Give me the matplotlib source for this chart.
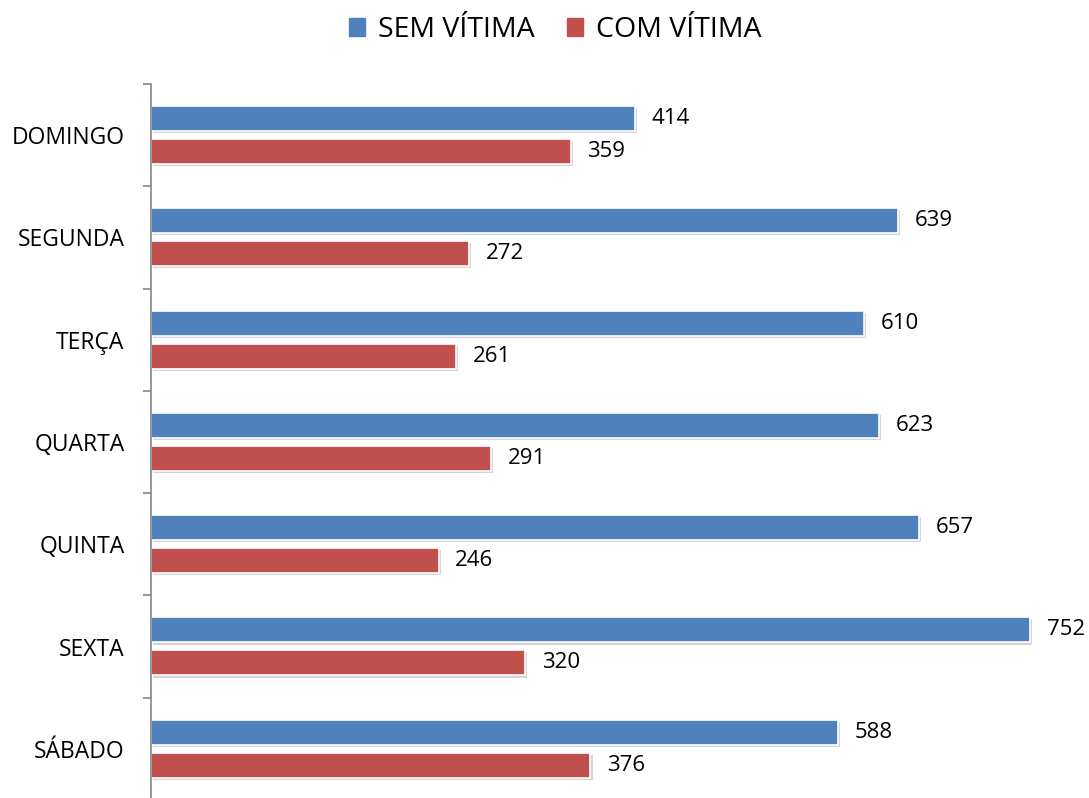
import numpy as np
import matplotlib.pyplot as plt
import matplotlib.patheffects as pe
from matplotlib.patches import Patch

# data
dias = ['DOMINGO', 'SEGUNDA', 'TERÇA', 'QUARTA', 'QUINTA', 'SEXTA', 'SÁBADO']
sem_vitima = [414, 639, 610, 623, 657, 752, 588]
com_vitima = [359, 272, 261, 291, 246, 320, 376]
series_names = ['SEM VÍTIMA', 'COM VÍTIMA']

plt.rcParams['font.family'] = ['Open Sans', 'DejaVu Sans']

fig = plt.figure(figsize=(10.89, 7.98), dpi=100)
ax = fig.add_axes([151 / 1089, -2 / 798, 935 / 1089, 716 / 798])

y = np.arange(len(dias))
h = 0.245
shadow = [pe.SimplePatchShadow(offset=(1.5, -1.5), shadow_rgbFace='#aaaaaa', alpha=0.5), pe.Normal()]

b1 = ax.barh(y - 0.163, sem_vitima, height=h, color='#4F81BD',
             edgecolor='white', linewidth=1.2, path_effects=shadow)
b2 = ax.barh(y + 0.16, com_vitima, height=h, color='#C0504D',
             edgecolor='white', linewidth=1.2, path_effects=shadow)

for bars, vals in [(b1, sem_vitima), (b2, com_vitima)]:
    for bar, v in zip(bars, vals):
        ax.annotate(str(v), (bar.get_width(), bar.get_y() + bar.get_height() / 2),
                    xytext=(12, 0), textcoords='offset points',
                    va='center', ha='left', fontsize=16, color='black')

ax.set_xlim(0, 800)
ax.set_ylim(len(dias) - 0.5, -0.5)
ax.set_yticks(y)
ax.set_yticklabels(dias, fontsize=16.5)
ax.set_yticks(np.arange(-0.5, len(dias) + 0.5, 1), minor=True)
ax.tick_params(axis='y', which='major', length=0, pad=19)
ax.tick_params(axis='y', which='minor', length=6, color='#868686', width=1.2)
ax.set_xticks([])

for s in ['top', 'right', 'bottom']:
    ax.spines[s].set_visible(False)
ax.spines['left'].set_color('#868686')
ax.spines['left'].set_linewidth(1.2)

handles = [Patch(color='#4F81BD'), Patch(color='#C0504D')]
fig.legend(handles, series_names, loc='upper center', bbox_to_anchor=(0.51, 1.012),
           ncol=2, frameon=False, fontsize=20.5, handlelength=0.55, handleheight=0.55,
           handletextpad=0.45, columnspacing=1.15)

fig.savefig('out.png', dpi=100)
